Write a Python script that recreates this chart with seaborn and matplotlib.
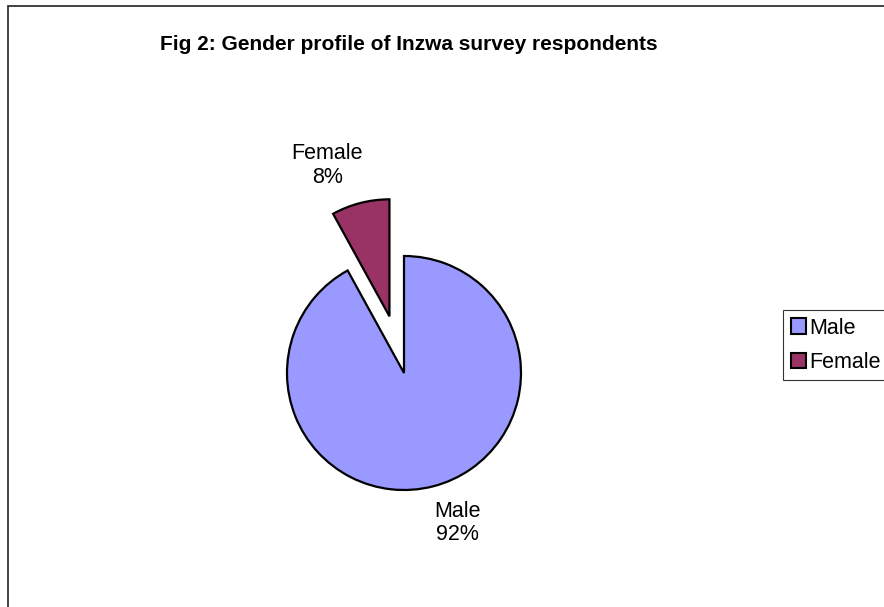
import matplotlib
matplotlib.use("Agg")
import matplotlib.pyplot as plt
from matplotlib.patches import Rectangle, Patch
import seaborn as sns

sns.set_style("white")
plt.rcParams["font.family"] = ["Liberation Sans", "DejaVu Sans"]
plt.rcParams["text.color"] = "black"

# data
genders = ["Male", "Female"]
shares = [92, 8]
colors = ["#9999FF", "#993366"]
pct_labels = [f"{g}\n{s}%" for g, s in zip(genders, shares)]

W, H = 884, 607
R = 117
fig = plt.figure(figsize=(W / 100, H / 100), dpi=100)
ax = fig.add_axes([0, 0, 1, 1])

wedges, texts = ax.pie(
    shares,
    labels=pct_labels,
    colors=colors,
    explode=[0, 0.5 * R],  # explode is in data units here
    startangle=90,
    counterclock=False,
    center=(404, H - 373),
    radius=R,
    labeldistance=1.42,
    wedgeprops=dict(edgecolor="black", linewidth=1.6),
    textprops=dict(fontsize=15.5, color="black"),
    frame=True,
)
ax.set_xlim(0, W)
ax.set_ylim(0, H)
ax.set_aspect("equal")
ax.axis("off")

# nudge labels the way Excel placed them
nudges = [(12, 11), (-21, -10)]
for t, (dx, dy) in zip(texts, nudges):
    x, y = t.get_position()
    t.set_position((x + dx, y + dy))
    t.set_ha("center")
    t.set_multialignment("center")
    t.set_linespacing(1.15)

fig.text(409 / W, 1 - 45 / H, "Fig 2: Gender profile of Inzwa survey respondents",
         ha="center", va="center", fontsize=15, fontweight="bold", color="black")

handles = [Patch(facecolor=c, edgecolor="black", linewidth=1.5) for c in colors]
leg = fig.legend(handles, genders, loc="upper left",
                 bbox_to_anchor=(783 / W, 1 - 310 / H),
                 fontsize=15.5, frameon=True, fancybox=False, labelcolor="black",
                 handlelength=0.7, handleheight=0.7, handletextpad=0.15,
                 borderpad=0.35, labelspacing=0.62, borderaxespad=0)
leg.get_frame().set_edgecolor("black")
leg.get_frame().set_linewidth(0.8)

# chart area border, runs off the right and bottom edges
fig.patches.append(Rectangle((8 / W, -0.1), 1, 1.1 - 6 / H, transform=fig.transFigure,
                             fill=False, edgecolor="#222222", linewidth=1.2))

fig.savefig("out.png", dpi=100, facecolor="white")
